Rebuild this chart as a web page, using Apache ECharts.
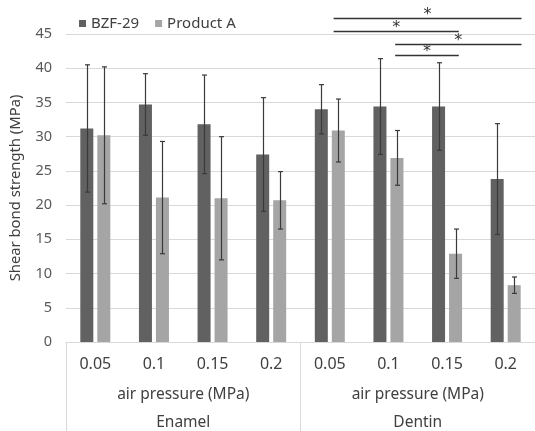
<!DOCTYPE html>
<html><head><meta charset="utf-8">
<script src="https://cdn.jsdelivr.net/npm/echarts@6/dist/echarts.min.js"></script>
<style>html,body{margin:0;padding:0;background:#fff}#c{width:535px;height:431px}</style>
</head><body><div id="c"></div>
<script>
const categories = ['0.05','0.1','0.15','0.2','0.05','0.1','0.15','0.2'];
const groupLabels = ['Enamel','Dentin'];
const axisTitles = ['air pressure (MPa)','air pressure (MPa)'];
const seriesNames = ['BZF-29','Product A'];
const bzfMean = [31.2,34.7,31.8,27.4,34.0,34.4,34.4,23.8];
const bzfSD   = [9.3,4.5,7.2,8.3,3.6,7.0,6.4,8.1];
const prodMean = [30.2,21.1,21.0,20.7,30.9,26.9,12.9,8.3];
const prodSD   = [10.0,8.2,9.0,4.2,4.6,4.0,3.6,1.2];
const yMin = 0, yMax = 45, yInterval = 5;
// significance brackets (x in category units 0..8, y in MPa)
const sigStart = [4.565,4.565,5.615,5.615];
const sigEnd   = [7.77,6.70,7.77,6.70];
const sigY     = [47.3,45.5,43.6,41.9];
const sigLabel = ['*','*','*','*'];

const FONT = 'Noto Sans';
const BAR_W = 13, BAR_GAP = 4;
const OFF = (BAR_W + BAR_GAP) / 2;
const TXT = '#404040';
const GRID = '#d9d9d9';

function errSeries(means, sds, off) {
  return {
    type: 'custom', xAxisIndex: 0, yAxisIndex: 0, z: 5, clip: false,
    encode: {x: 0, y: [1, 2]},
    data: means.map((m, i) => [i, m - sds[i], m + sds[i]]),
    renderItem(params, api) {
      const lo = api.coord([api.value(0), api.value(1)]);
      const hi = api.coord([api.value(0), api.value(2)]);
      const x = Math.round(lo[0] + off) + 0.5;
      const st = {stroke: '#3a3a3a', lineWidth: 1.2};
      return {type: 'group', children: [
        {type: 'line', shape: {x1: x, y1: lo[1], x2: x, y2: hi[1]}, style: st},
        {type: 'line', shape: {x1: x - 2.5, y1: lo[1], x2: x + 2.5, y2: lo[1]}, style: st},
        {type: 'line', shape: {x1: x - 2.5, y1: hi[1], x2: x + 2.5, y2: hi[1]}, style: st}
      ]};
    }
  };
}

const chart = echarts.init(document.getElementById('c'), null, {renderer: 'canvas'});
chart.setOption({
  animation: false,
  backgroundColor: '#fff',
  textStyle: {fontFamily: FONT},
  grid: {left: 66, right: -5, top: 34, bottom: 88.3, containLabel: false},
  legend: {
    data: seriesNames, left: 74, top: 11, icon: 'rect', itemWidth: 7, itemHeight: 7, itemGap: 16,
    textStyle: {fontFamily: FONT, fontSize: 15, color: TXT}
  },
  xAxis: [
    {type: 'category', data: categories, position: 'bottom',
     axisLine: {lineStyle: {color: GRID}}, axisTick: {show: false},
     axisLabel: {margin: 14, fontSize: 16, color: TXT, fontFamily: FONT}},
    {type: 'category', data: axisTitles, position: 'bottom', offset: 38,
     axisLine: {show: false}, axisTick: {show: false},
     axisLabel: {margin: 7, fontSize: 15.5, color: TXT, fontFamily: FONT}},
    {type: 'category', data: groupLabels, position: 'bottom', offset: 66,
     axisLine: {show: false}, axisTick: {show: false},
     axisLabel: {margin: 7, fontSize: 15.5, color: TXT, fontFamily: FONT}},
    {type: 'category', data: groupLabels, position: 'bottom', offset: 0,
     axisLine: {show: false}, axisLabel: {show: false},
     axisTick: {show: true, length: 90, lineStyle: {color: GRID}}},
    {type: 'value', min: 0, max: 8, show: false}
  ],
  yAxis: {
    type: 'value', min: yMin, max: yMax, interval: yInterval,
    name: 'Shear bond strength (MPa)', nameLocation: 'middle', nameGap: 43,
    nameTextStyle: {fontSize: 14.8, color: TXT, fontFamily: FONT},
    axisLine: {show: false}, axisTick: {show: false},
    axisLabel: {margin: 14, fontSize: 14.5, color: '#595959', fontFamily: FONT},
    splitLine: {lineStyle: {color: GRID, width: 1}}
  },
  series: [
    {name: seriesNames[0], type: 'bar', data: bzfMean, barWidth: BAR_W, barGap: (BAR_GAP / BAR_W * 100) + '%',
     itemStyle: {color: '#616161'}},
    {name: seriesNames[1], type: 'bar', data: prodMean, barWidth: BAR_W,
     itemStyle: {color: '#a5a5a5'}},
    errSeries(bzfMean, bzfSD, -OFF),
    errSeries(prodMean, prodSD, OFF),
    {type: 'custom', xAxisIndex: 4, yAxisIndex: 0, z: 6, clip: false,
     encode: {x: [0, 1], y: 2},
     data: sigStart.map((s, i) => [s, sigEnd[i], sigY[i], sigLabel[i]]),
     renderItem(params, api) {
       const a = api.coord([api.value(0), api.value(2)]);
       const b = api.coord([api.value(1), api.value(2)]);
       const y = Math.round(a[1]) + 0.5;
       return {type: 'group', children: [
         {type: 'line', shape: {x1: a[0], y1: y, x2: b[0], y2: y}, style: {stroke: '#333', lineWidth: 1.6}},
         {type: 'text', x: (a[0] + b[0]) / 2, y: y + 4.5,
          style: {text: sigLabel[params.dataIndex], fill: '#333', fontSize: 16,
                  fontFamily: 'DejaVu Sans', align: 'center', verticalAlign: 'bottom'}}
       ]};
     }}
  ]
});
</script></body></html>
